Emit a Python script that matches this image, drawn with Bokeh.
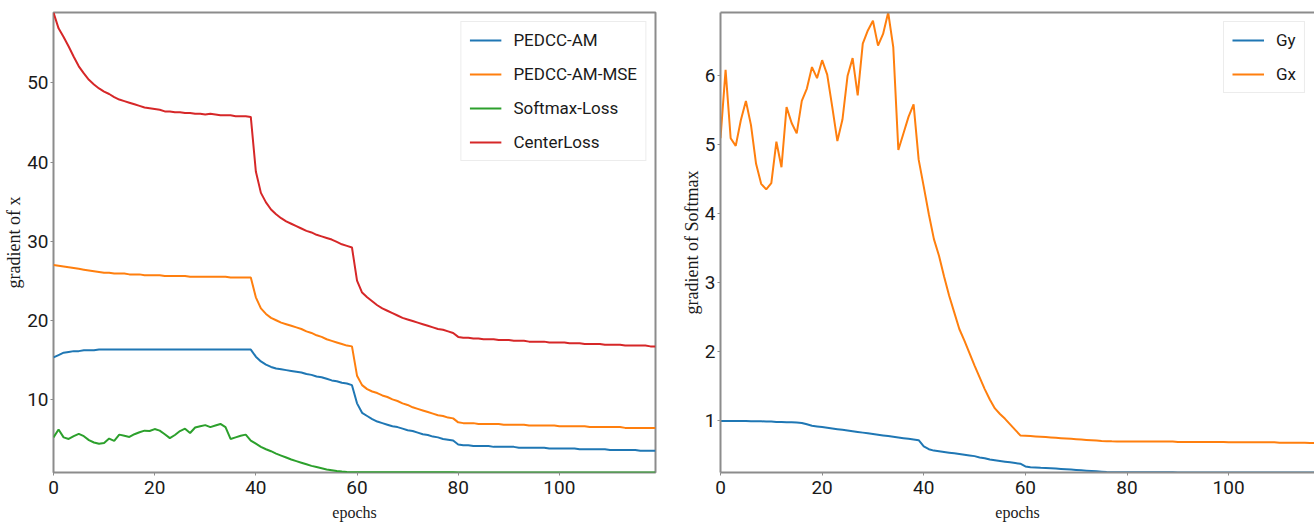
from bokeh.plotting import figure
from bokeh.models import Range1d, FixedTicker, LinearAxis, Legend, LegendItem
from bokeh.layouts import row
from bokeh.embed import file_html
from bokeh.resources import INLINE

epochs = list(range(120))

pedcc_am = [
    15.3, 15.6, 15.9, 16.0, 16.1, 16.1, 16.2, 16.2, 16.2, 16.3,
    16.3, 16.3, 16.3, 16.3, 16.3, 16.3, 16.3, 16.3, 16.3, 16.3,
    16.3, 16.3, 16.3, 16.3, 16.3, 16.3, 16.3, 16.3, 16.3, 16.3,
    16.3, 16.3, 16.3, 16.3, 16.3, 16.3, 16.3, 16.3, 16.3, 16.3,
    15.4, 14.8, 14.4, 14.1, 13.9, 13.8, 13.7, 13.6, 13.5, 13.4,
    13.2, 13.1, 12.9, 12.8, 12.6, 12.4, 12.3, 12.1, 12.0, 11.8,
    9.5, 8.3, 7.9, 7.5, 7.2, 7.0, 6.8, 6.6, 6.5, 6.3,
    6.1, 6.0, 5.8, 5.6, 5.5, 5.3, 5.2, 5.0, 4.9, 4.8,
    4.3, 4.2, 4.2, 4.1, 4.1, 4.1, 4.1, 4.0, 4.0, 4.0,
    4.0, 4.0, 3.9, 3.9, 3.9, 3.9, 3.9, 3.9, 3.8, 3.8,
    3.8, 3.8, 3.8, 3.8, 3.7, 3.7, 3.7, 3.7, 3.7, 3.7,
    3.6, 3.6, 3.6, 3.6, 3.6, 3.6, 3.5, 3.5, 3.5, 3.5,
]

pedcc_am_mse = [
    27.0, 26.9, 26.8, 26.7, 26.6, 26.5, 26.4, 26.3, 26.2, 26.1,
    26.0, 26.0, 25.9, 25.9, 25.9, 25.8, 25.8, 25.8, 25.7, 25.7,
    25.7, 25.7, 25.6, 25.6, 25.6, 25.6, 25.6, 25.5, 25.5, 25.5,
    25.5, 25.5, 25.5, 25.5, 25.5, 25.4, 25.4, 25.4, 25.4, 25.4,
    22.9, 21.5, 20.8, 20.3, 20.0, 19.7, 19.5, 19.3, 19.1, 18.9,
    18.6, 18.4, 18.1, 17.9, 17.6, 17.4, 17.2, 17.0, 16.8, 16.7,
    13.0, 11.8, 11.3, 11.0, 10.8, 10.5, 10.3, 10.0, 9.8, 9.5,
    9.3, 9.0, 8.8, 8.6, 8.4, 8.2, 8.0, 7.9, 7.7, 7.6,
    7.1, 7.0, 7.0, 7.0, 6.9, 6.9, 6.9, 6.9, 6.9, 6.8,
    6.8, 6.8, 6.8, 6.8, 6.7, 6.7, 6.7, 6.7, 6.7, 6.7,
    6.6, 6.6, 6.6, 6.6, 6.6, 6.6, 6.5, 6.5, 6.5, 6.5,
    6.5, 6.5, 6.5, 6.4, 6.4, 6.4, 6.4, 6.4, 6.4, 6.4,
]

softmax_loss = [
    5.2, 6.2, 5.2, 5.0, 5.35, 5.65, 5.35, 4.85, 4.55, 4.4,
    4.5, 5.05, 4.75, 5.55, 5.4, 5.25, 5.6, 5.85, 6.05, 6.0,
    6.25, 6.05, 5.6, 5.1, 5.5, 6.0, 6.3, 5.75, 6.45, 6.6,
    6.75, 6.5, 6.7, 6.9, 6.5, 5.0, 5.2, 5.4, 5.55, 4.8,
    4.4, 4.0, 3.7, 3.45, 3.15, 2.9, 2.65, 2.4, 2.2, 2.0,
    1.8, 1.6, 1.45, 1.3, 1.15, 1.05, 0.95, 0.88, 0.83, 0.8,
    0.8, 0.8, 0.79, 0.79, 0.79, 0.79, 0.79, 0.79, 0.78, 0.78,
    0.78, 0.78, 0.78, 0.78, 0.78, 0.78, 0.78, 0.78, 0.78, 0.78,
    0.77, 0.77, 0.77, 0.77, 0.77, 0.77, 0.77, 0.77, 0.77, 0.77,
    0.77, 0.77, 0.77, 0.77, 0.77, 0.77, 0.77, 0.77, 0.77, 0.77,
    0.76, 0.76, 0.76, 0.76, 0.76, 0.76, 0.76, 0.76, 0.76, 0.76,
    0.76, 0.76, 0.76, 0.76, 0.76, 0.76, 0.76, 0.76, 0.76, 0.76,
]

center_loss = [
    58.9, 56.9, 55.8, 54.6, 53.3, 52.1, 51.2, 50.4, 49.8, 49.3,
    48.9, 48.6, 48.2, 47.9, 47.7, 47.5, 47.3, 47.1, 46.9, 46.8,
    46.7, 46.6, 46.4, 46.4, 46.3, 46.3, 46.2, 46.2, 46.1, 46.1,
    46.0, 46.1, 46.0, 45.9, 45.9, 45.9, 45.8, 45.8, 45.8, 45.7,
    38.8, 36.1, 34.9, 34.0, 33.4, 32.9, 32.5, 32.2, 31.9, 31.6,
    31.3, 31.1, 30.8, 30.6, 30.4, 30.2, 29.9, 29.6, 29.4, 29.2,
    25.0, 23.5, 22.9, 22.4, 21.9, 21.5, 21.2, 20.9, 20.6, 20.3,
    20.1, 19.9, 19.7, 19.5, 19.3, 19.1, 18.9, 18.8, 18.6, 18.4,
    17.9, 17.8, 17.8, 17.7, 17.7, 17.6, 17.6, 17.6, 17.5, 17.5,
    17.5, 17.4, 17.4, 17.4, 17.3, 17.3, 17.3, 17.3, 17.2, 17.2,
    17.2, 17.2, 17.1, 17.1, 17.1, 17.0, 17.0, 17.0, 17.0, 16.9,
    16.9, 16.9, 16.9, 16.8, 16.8, 16.8, 16.8, 16.8, 16.7, 16.7,
]

gy = [
    1.00, 1.00, 1.00, 1.00, 1.00, 1.00, 0.995, 0.995, 0.995, 0.99,
    0.99, 0.985, 0.985, 0.98, 0.98, 0.975, 0.97, 0.95, 0.93, 0.92,
    0.91, 0.90, 0.89, 0.88, 0.87, 0.86, 0.85, 0.84, 0.83, 0.82,
    0.81, 0.80, 0.79, 0.78, 0.77, 0.76, 0.75, 0.74, 0.73, 0.72,
    0.63, 0.59, 0.57, 0.56, 0.55, 0.54, 0.53, 0.52, 0.51, 0.50,
    0.49, 0.47, 0.46, 0.44, 0.43, 0.42, 0.41, 0.40, 0.39, 0.38,
    0.34, 0.33, 0.325, 0.32, 0.318, 0.315, 0.31, 0.305, 0.30, 0.295,
    0.29, 0.285, 0.28, 0.275, 0.27, 0.265, 0.26, 0.258, 0.256, 0.255,
    0.255, 0.255, 0.255, 0.255, 0.255, 0.255, 0.255, 0.255, 0.255, 0.255,
    0.254, 0.254, 0.254, 0.254, 0.254, 0.254, 0.254, 0.254, 0.254, 0.254,
    0.254, 0.254, 0.254, 0.254, 0.254, 0.253, 0.253, 0.253, 0.253, 0.253,
    0.253, 0.253, 0.253, 0.253, 0.253, 0.253, 0.253, 0.253, 0.253, 0.253,
]

gx = [
    5.09, 6.08, 5.09, 4.98, 5.35, 5.63, 5.28, 4.72, 4.43, 4.35,
    4.44, 5.04, 4.67, 5.54, 5.31, 5.16, 5.63, 5.81, 6.12, 5.96,
    6.22, 6.01, 5.54, 5.05, 5.36, 5.99, 6.25, 5.71, 6.46, 6.65,
    6.79, 6.43, 6.60, 6.91, 6.41, 4.92, 5.16, 5.40, 5.58, 4.78,
    4.39, 3.99, 3.63, 3.39, 3.09, 2.81, 2.57, 2.33, 2.16, 1.98,
    1.80, 1.63, 1.46, 1.31, 1.18, 1.10, 1.03, 0.95, 0.87, 0.79,
    0.785, 0.78, 0.775, 0.77, 0.765, 0.76, 0.755, 0.75, 0.745, 0.74,
    0.735, 0.73, 0.725, 0.72, 0.715, 0.71, 0.707, 0.704, 0.702, 0.70,
    0.70, 0.70, 0.70, 0.70, 0.70, 0.70, 0.70, 0.70, 0.70, 0.70,
    0.695, 0.695, 0.695, 0.695, 0.695, 0.695, 0.695, 0.695, 0.695, 0.695,
    0.69, 0.69, 0.69, 0.69, 0.69, 0.69, 0.69, 0.69, 0.69, 0.69,
    0.685, 0.685, 0.685, 0.685, 0.685, 0.685, 0.68, 0.68, 0.68, 0.68,
]

left_yticks = [10, 20, 30, 40, 50]
right_yticks = [1, 2, 3, 4, 5, 6]
xticks = [0, 20, 40, 60, 80, 100]

left_series = [("PEDCC-AM", pedcc_am, "#1f77b4"),
               ("PEDCC-AM-MSE", pedcc_am_mse, "#ff7f0e"),
               ("Softmax-Loss", softmax_loss, "#2ca02c"),
               ("CenterLoss", center_loss, "#d62728")]
right_series = [("Gy", gy, "#1f77b4"), ("Gx", gx, "#ff7f0e")]

SPINE = "#8c8c8c"
TICK_FONT = "Roboto"
LABEL_FONT = "Liberation Serif"


def style_axes(p, xlabel, ylabel, yticks):
    for ax in p.xaxis + p.yaxis:
        ax.major_tick_out = 3
        ax.major_tick_in = 0
        ax.minor_tick_line_color = None
        ax.major_tick_line_color = SPINE
        ax.major_label_text_font = TICK_FONT
        ax.major_label_text_font_size = "19px"
        ax.major_label_text_color = "#1a1a1a"
        ax.axis_label_text_font = LABEL_FONT
        ax.axis_label_text_font_style = "normal"
        ax.axis_label_text_color = "#1a1a1a"
    p.yaxis.major_label_standoff = 2
    p.yaxis.axis_label_standoff = 0
    p.xaxis.major_label_standoff = 5
    p.xaxis.axis_label_standoff = 7
    p.xaxis.ticker = FixedTicker(ticks=xticks)
    p.yaxis.ticker = FixedTicker(ticks=yticks)
    p.xaxis.axis_label = xlabel
    p.yaxis.axis_label = ylabel
    p.xaxis.axis_label_text_font_size = "16px"
    p.yaxis.axis_label_text_font_size = "18px"
    p.xgrid.grid_line_color = None
    p.ygrid.grid_line_color = None


# ---------- left plot ----------
all_left = pedcc_am + pedcc_am_mse + softmax_loss + center_loss
p1 = figure(width=677, height=526, output_backend="svg", toolbar_location=None,
            x_range=Range1d(epochs[0], epochs[-1]),
            y_range=Range1d(min(all_left), max(all_left)),
            min_border_left=53, min_border_right=22, min_border_top=12, min_border_bottom=54)
p1.background_fill_color = "white"
p1.outline_line_color = SPINE
p1.outline_line_width = 2
style_axes(p1, "epochs", "gradient of x", left_yticks)
p1.xaxis.axis_line_color = None
p1.yaxis.axis_line_color = None

items1 = []
for name, vals, col in left_series:
    r = p1.line(epochs, vals, line_color=col, line_width=2)
    items1.append(LegendItem(label=name, renderers=[r]))
leg1 = Legend(items=items1, location="top_right", margin=9, padding=8,
              glyph_width=32, glyph_height=20, label_height=20, spacing=14,
              label_standoff=12, label_text_font=TICK_FONT, label_text_font_size="17px",
              label_text_color="#1a1a1a",
              border_line_color="#d9d9d9", border_line_width=1,
              background_fill_color="white", background_fill_alpha=0.85)
p1.add_layout(leg1)

# ---------- right plot ----------
all_right = gy + gx
p2 = figure(width=637, height=526, output_backend="svg", toolbar_location=None,
            x_range=Range1d(epochs[0], 116.9),
            y_range=Range1d(min(all_right), max(all_right)),
            min_border_left=43, min_border_right=0, min_border_top=12, min_border_bottom=51)
p2.outline_line_color = None
style_axes(p2, "epochs", "gradient of Softmax", right_yticks)
for ax in p2.xaxis + p2.yaxis:
    ax.axis_line_color = SPINE
    ax.axis_line_width = 2

top_axis = LinearAxis(ticker=FixedTicker(ticks=[]), axis_line_color=SPINE, axis_line_width=2,
                      major_tick_line_color=None, minor_tick_line_color=None,
                      major_label_text_font_size="0px")
p2.add_layout(top_axis, "above")

items2 = []
for name, vals, col in right_series:
    r = p2.line(epochs, vals, line_color=col, line_width=2)
    items2.append(LegendItem(label=name, renderers=[r]))
leg2 = Legend(items=items2, location="top_right", margin=9, padding=8,
              glyph_width=32, glyph_height=20, label_height=20, spacing=14,
              label_standoff=12, label_text_font=TICK_FONT, label_text_font_size="17px",
              label_text_color="#1a1a1a",
              border_line_color="#d9d9d9", border_line_width=1,
              background_fill_color="white", background_fill_alpha=0.85)
p2.add_layout(leg2)

layout = row(p1, p2)
open("out.html", "w").write(file_html(layout, INLINE))
